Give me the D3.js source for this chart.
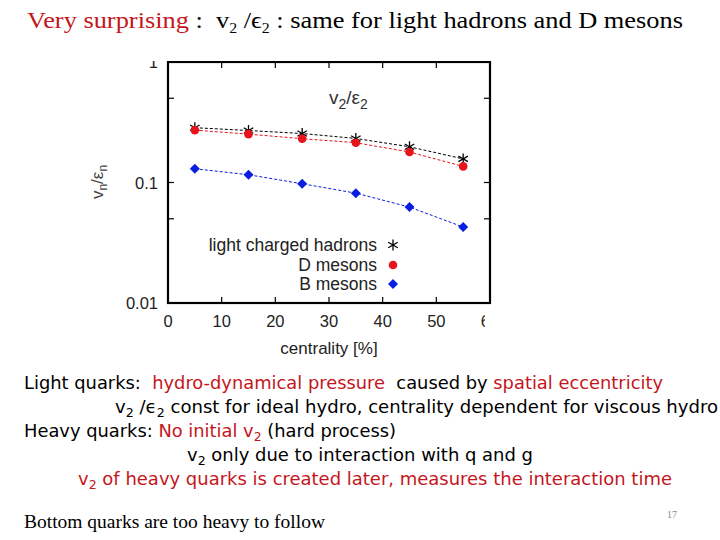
<!DOCTYPE html>
<html>
<head>
<meta charset="utf-8">
<script src="https://cdn.jsdelivr.net/npm/d3@7"></script>
<style>
  body { margin: 0; background: #fff; }
  svg { display: block; }
  text { white-space: pre; }
</style>
</head>
<body>
<svg id="slide" width="720" height="540"></svg>
<script>
// chart data
const centrality = [5, 15, 25, 35, 45, 55];
const lightHadrons = [0.285, 0.27, 0.255, 0.232, 0.198, 0.157];
const dMesons = [0.272, 0.252, 0.231, 0.214, 0.179, 0.136];
const bMesons = [0.130, 0.116, 0.0976, 0.0816, 0.0625, 0.0427];
const xTicks = [0, 10, 20, 30, 40, 50, 60];
const yTicks = [0.01, 0.1, 1];
const yMinorTicks = [0.05, 0.5];
const legendLabels = ["light charged hadrons", "D mesons", "B mesons"];

const RED = "#c4161c";

const svg = d3.select("#slide");

// ---------- slide text ----------
const titleSegs = [
  { t: "Very surprising", c: RED },
  { t: " :  v", c: "#000" },
  { t: "2", c: "#000", sub: true },
  { t: " /ϵ", c: "#000" },
  { t: "2", c: "#000", sub: true },
  { t: " : same for light hadrons and D mesons", c: "#000" },
];

const bodyLines = [
  { x: 24, y: 389, w: 639, segs: [
    { t: "Light quarks:  " }, { t: "hydro-dynamical pressure", c: RED },
    { t: "  caused by " }, { t: "spatial eccentricity", c: RED }] },
  { x: 115, y: 413, w: 603, segs: [
    { t: "v" }, { t: "2", sub: true }, { t: " /ϵ" }, { t: "2", sub: true },
    { t: " const for ideal hydro, centrality dependent for viscous hydro" }] },
  { x: 24, y: 437, w: 372, segs: [
    { t: "Heavy quarks: " }, { t: "No initial v", c: RED }, { t: "2", c: RED, sub: true },
    { t: " (hard process)" }] },
  { x: 187, y: 461, w: 346, segs: [
    { t: "v" }, { t: "2", sub: true }, { t: " only due to interaction with q and g" }] },
  { x: 78, y: 485, w: 594, segs: [
    { t: "v", c: RED }, { t: "2", c: RED, sub: true },
    { t: " of heavy quarks is created later, measures the interaction time", c: RED }] },
];

function writeLine(g, line, font, size, subScale) {
  const txt = g.append("text")
    .attr("x", line.x).attr("y", line.y)
    .attr("font-family", font).attr("font-size", size)
    .attr("textLength", line.w).attr("lengthAdjust", "spacingAndGlyphs");
  let shifted = false;
  line.segs.forEach(s => {
    const ts = txt.append("tspan").attr("fill", s.c || "#000").text(s.t);
    if (s.sub && !shifted) { ts.attr("dy", size * 0.22).attr("font-size", size * subScale); shifted = true; }
    else if (s.sub) { ts.attr("font-size", size * subScale); }
    else if (shifted) { ts.attr("dy", -size * 0.22); shifted = false; }
  });
}

writeLine(svg, { x: 27, y: 28, w: 656, segs: titleSegs }, "Liberation Serif, Times New Roman, serif", 24, 0.6);
bodyLines.forEach(l => writeLine(svg, l, "DejaVu Sans Condensed, DejaVu Sans, sans-serif", 18, 0.7));

svg.append("text").attr("x", 24).attr("y", 528)
  .attr("font-family", "Liberation Serif, serif").attr("font-size", 19)
  .attr("textLength", 301).attr("lengthAdjust", "spacingAndGlyphs")
  .text("Bottom quarks are too heavy to follow");
svg.append("text").attr("x", 672).attr("y", 518)
  .attr("font-family", "Liberation Serif, serif").attr("font-size", 10)
  .attr("fill", "#888").attr("text-anchor", "middle").text("17");

// ---------- chart ----------
svg.append("clipPath").attr("id", "imgclip")
  .append("rect").attr("x", 80).attr("y", 61).attr("width", 412).attr("height", 300);
svg.append("clipPath").attr("id", "labclip")
  .append("rect").attr("x", 80).attr("y", 61).attr("width", 405).attr("height", 300);

const chart = svg.append("g").attr("clip-path", "url(#imgclip)")
  .attr("font-family", "Liberation Sans, Arial, sans-serif");

const m = { left: 168, right: 490, top: 62, bottom: 303 };
const x = d3.scaleLinear().domain([0, 60]).range([m.left, m.right]);
const y = d3.scaleLog().domain([0.01, 1]).range([m.bottom, m.top]);
const tk = 6;

const axisCol = "#000";
// ticks (inward, mirrored)
const tickG = chart.append("g").attr("stroke", axisCol).attr("stroke-width", 1.2);
xTicks.forEach(v => {
  tickG.append("line").attr("x1", x(v)).attr("x2", x(v)).attr("y1", m.bottom).attr("y2", m.bottom - tk);
  tickG.append("line").attr("x1", x(v)).attr("x2", x(v)).attr("y1", m.top).attr("y2", m.top + tk);
});
yTicks.concat(yMinorTicks).forEach(v => {
  tickG.append("line").attr("x1", m.left).attr("x2", m.left + tk).attr("y1", y(v)).attr("y2", y(v));
  tickG.append("line").attr("x1", m.right).attr("x2", m.right - tk).attr("y1", y(v)).attr("y2", y(v));
});

chart.append("rect")
  .attr("x", m.left).attr("y", m.top)
  .attr("width", m.right - m.left).attr("height", m.bottom - m.top)
  .attr("fill", "none").attr("stroke", axisCol).attr("stroke-width", 2.2);

const labCol = "#222";
chart.append("g").attr("clip-path", "url(#labclip)")
  .selectAll("text").data(xTicks).join("text")
  .attr("x", d => x(d)).attr("y", m.bottom + 24)
  .attr("text-anchor", "middle").attr("font-size", 16.5).attr("fill", labCol)
  .text(d => d);

chart.append("g").selectAll("text").data(yTicks).join("text")
  .attr("x", m.left - 10).attr("y", d => y(d) + 6)
  .attr("text-anchor", "end").attr("font-size", 16.5).attr("fill", labCol)
  .text(d => d3.format("")(d));

chart.append("text").attr("x", (m.left + m.right) / 2).attr("y", 354)
  .attr("text-anchor", "middle").attr("font-size", 17).attr("fill", labCol)
  .text("centrality [%]");

const yl = chart.append("text").attr("transform", "translate(103,182) rotate(-90)")
  .attr("text-anchor", "middle").attr("font-size", 17).attr("fill", "#444");
yl.append("tspan").text("v");
yl.append("tspan").attr("font-size", 12).attr("dy", 4).text("n");
yl.append("tspan").attr("dy", -4).text("/ε");
yl.append("tspan").attr("font-size", 12).attr("dy", 4).text("n");

const tt = chart.append("text").attr("x", 329).attr("y", 104)
  .attr("font-size", 19).attr("fill", "#333");
tt.append("tspan").text("v");
tt.append("tspan").attr("font-size", 14).attr("dy", 5).text("2");
tt.append("tspan").attr("dy", -5).text("/ε");
tt.append("tspan").attr("font-size", 14).attr("dy", 5).text("2");

// series
const series = [
  { vals: lightHadrons, col: "#000", sym: "star" },
  { vals: dMesons, col: "#e8141c", sym: "circle" },
  { vals: bMesons, col: "#0a1ee0", sym: "diamond" },
];
const line = d3.line().x((d, i) => x(centrality[i])).y(d => y(d));

function marker(g, sym, cx, cy, col) {
  if (sym === "circle") {
    g.append("circle").attr("cx", cx).attr("cy", cy).attr("r", 4.3).attr("fill", col);
  } else if (sym === "diamond") {
    g.append("path").attr("d", d3.symbol(d3.symbolDiamond2, 64)())
      .attr("transform", `translate(${cx},${cy})`).attr("fill", col);
  } else {
    const r = 5.5;
    [90, 30, -30].forEach(a => {
      const rad = a * Math.PI / 180;
      g.append("line")
        .attr("x1", cx - r * Math.cos(rad)).attr("y1", cy - r * Math.sin(rad))
        .attr("x2", cx + r * Math.cos(rad)).attr("y2", cy + r * Math.sin(rad))
        .attr("stroke", col).attr("stroke-width", 1.3);
    });
  }
}

series.forEach(s => {
  chart.append("path").datum(s.vals).attr("d", line)
    .attr("fill", "none").attr("stroke", s.col).attr("stroke-width", 1)
    .attr("stroke-dasharray", "3,2");
  const g = chart.append("g");
  s.vals.forEach((v, i) => marker(g, s.sym, x(centrality[i]), y(v), s.col));
});

// legend
const legY = [245, 265, 284];
legendLabels.forEach((lab, i) => {
  chart.append("text").attr("x", 377).attr("y", legY[i] + 6)
    .attr("text-anchor", "end").attr("font-size", 17.5).attr("fill", labCol).text(lab);
  marker(chart, series[i].sym, 393, legY[i], series[i].col);
});
</script>
</body>
</html>
